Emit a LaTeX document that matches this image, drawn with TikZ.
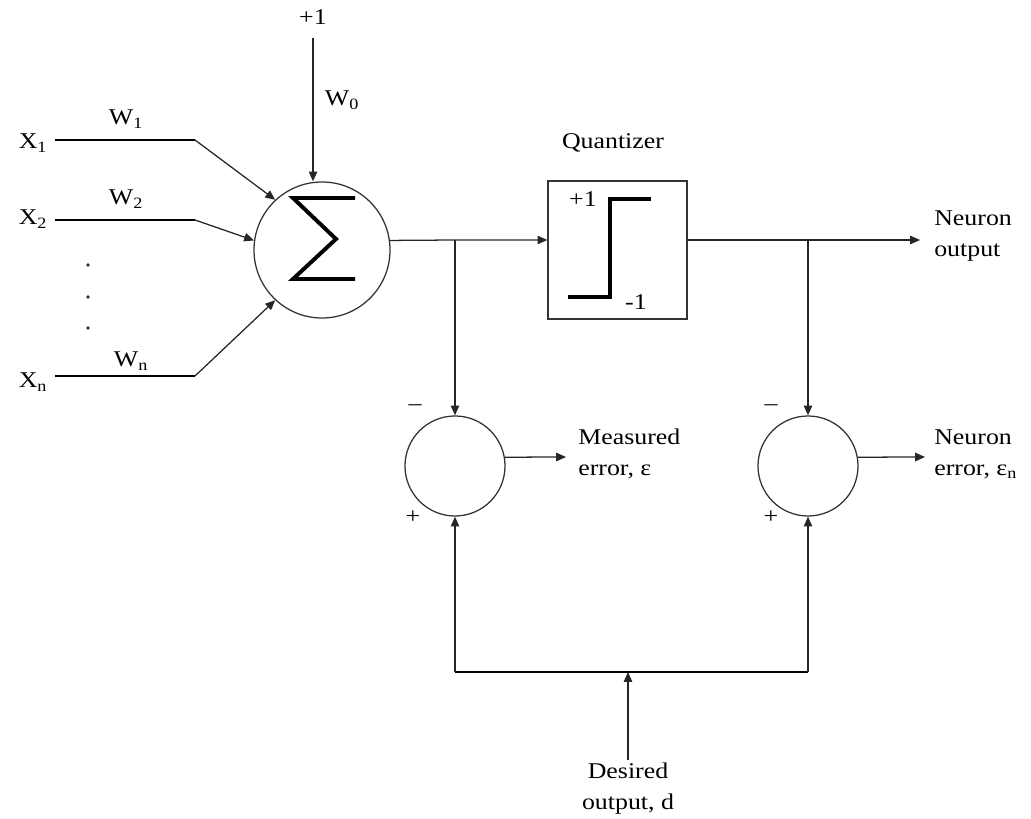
\documentclass[tikz,border=0pt]{standalone}
\usepackage{fontspec}
\setmainfont[FakeStretch=1.15]{Liberation Serif}
\usetikzlibrary{arrows.meta}
\begin{document}
\begin{tikzpicture}[x=0.025cm,y=-0.025cm,
  every node/.style={font=\fontsize{16}{19}\selectfont, inner sep=0pt},
  thin line/.style={line width=0.9pt, draw=black!85},
  arr/.style={thin line, -{Triangle[length=7pt,width=6pt]}},
  thick line/.style={line width=2pt},
  heavy/.style={line width=2.8pt},
  circ/.style={circle, draw=black!80, line width=0.9pt, inner sep=0pt},
  lab/.style={anchor=center},
  lft/.style={anchor=west, align=left},
  dotmark/.style={circle, fill=black!80, minimum size=2.5pt, inner sep=0pt}
]
\useasboundingbox (0,0) rectangle (1031,819);

% main nodes
\node[circ, minimum size=3.4cm] (sum) at (322,250) {};
\node[draw=black!80, line width=0.9pt, minimum width=3.475cm, minimum height=3.45cm] (quant) at (617.5,250) {};
\node[circ, minimum size=2.5cm] (m) at (455,466) {};
\node[circ, minimum size=2.5cm] (n) at (808,466) {};

% sigma and step drawings
\draw[heavy, line join=miter] (355,198) -- (293,198) -- (336,239) -- (293,279) -- (355,279);
\draw[heavy] (568,297) -- (610,297) -- (610,199) -- (651,199);

% coordinates
\coordinate (bias) at (313,38);
\coordinate (x1s) at (55,140);  \coordinate (x1k) at (195,140);
\coordinate (x2s) at (55,220);  \coordinate (x2k) at (195,220);
\coordinate (xns) at (55,376);  \coordinate (xnk) at (195,376);
\coordinate (j1) at (455,240);
\coordinate (j2) at (808,240);
\coordinate (out) at (920,240);
\coordinate (merr) at (566,457);
\coordinate (nerr) at (925,457);
\coordinate (b1) at (455,672);
\coordinate (b2) at (808,672);
\coordinate (bd) at (628,672);
\coordinate (ds) at (628,760);

% input lines
\draw[thick line] (x1s) -- (x1k);
\draw[thick line] (x2s) -- (x2k);
\draw[thick line] (xns) -- (xnk);
\draw[arr] (x1k) -- (sum.133);
\draw[arr] (x2k) -- (sum.172);
\draw[arr] (xnk) -- (sum.227);
\draw[arr] (bias) -- (sum.north -| bias);

% forward path
\draw[arr] (sum.8.5) -- (j1) -- (quant.west |- j1);
\draw[arr] (quant.east |- j2) -- (j2) -- (out);
\draw[arr] (j1) -- (m.north);
\draw[arr] (j2) -- (n.north);
\draw[arr] (m.10) -- (merr);
\draw[arr] (n.10) -- (nerr);

% desired output feedback
\draw[thick line] (b1) -- (b2);
\draw[arr] (b1) -- (m.south);
\draw[arr] (b2) -- (n.south);
\draw[arr] (ds) -- (bd);

% dots
\node[dotmark] (d1) at (88,265) {};
\node[dotmark] (d2) at (88,297) {};
\node[dotmark] (d3) at (88,328) {};

% labels
\node[lab] (tp1) at (313,17) {+1};
\node[lab] (tw0) at (342,100) {W\textsubscript{0}};
\node[lab] (tx1) at (33,143) {X\textsubscript{1}};
\node[lab] (tx2) at (33,219) {X\textsubscript{2}};
\node[lab] (txn) at (33,382) {X\textsubscript{n}};
\node[lab] (tw1) at (126,119) {W\textsubscript{1}};
\node[lab] (tw2) at (126,199) {W\textsubscript{2}};
\node[lab] (twn) at (131,361) {W\textsubscript{n}};
\node[lab] (tq) at (613,143) {Quantizer};
\node[lab] (tqp) at (583,199) {+1};
\node[lab] (tqm) at (636,302) {-1};
\node[lft] (tno) at (934,236) {Neuron\\[3pt]output};
\node[lft] (tme) at (578,454) {Measured\\[3pt]error, ε};
\node[lft] (tne) at (934,454) {Neuron\\[3pt]error, ε\textsubscript{n}};
\node[lab] (tm1) at (415,408) {–};
\node[lab] (tm2) at (771,408) {–};
\node[lab] (tpl1) at (413,517) {+};
\node[lab] (tpl2) at (771,517) {+};
\node[anchor=north, align=center] (tds) at (628,763) {Desired\\[3pt]output, d};
\end{tikzpicture}
\end{document}
